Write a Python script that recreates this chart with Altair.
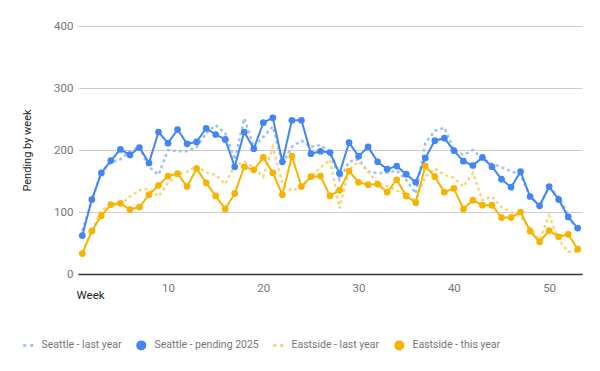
import altair as alt
import pandas as pd

weeks = list(range(1, 54))

seattle_last_year = [70, 118, 165, 180, 185, 198, 205, 173, 160, 200, 198, 198, 205, 227, 240, 227, 184, 251, 205, 221,
                     238, 178, 205, 215, 205, 208, 197, 152, 181, 185, 165, 163, 163, 167, 152, 130, 211, 231, 236, 200,
                     192, 200, 185, 178, 172, 166, 160, 125, 110, 140, 125, 95, 68]
seattle_2025 = [62, 120, 163, 183, 201, 192, 204, 179, 229, 211, 233, 210, 213, 235, 225, 217, 173, 229, 202, 244,
                252, 181, 248, 248, 194, 198, 196, 162, 212, 190, 205, 181, 169, 174, 161, 148, 187, 215, 219, 199,
                182, 175, 188, 173, 153, 140, 165, 125, 110, 141, 120, 92, 74]
eastside_last_year = [35, 70, 103, 112, 112, 125, 135, 137, 125, 147, 160, 165, 174, 164, 160, 145, 175, 181, 172, 157,
                      205, 146, 134, 140, 157, 172, 184, 106, 168, 181, 165, 146, 142, 135, 127, 119, 157, 170, 160, 155,
                      141, 163, 119, 125, 108, 100, 92, 74, 55, 94, 55, 36, 36]
eastside_this_year = [33, 69, 94, 112, 114, 104, 108, 128, 143, 158, 162, 141, 170, 147, 126, 105, 130, 173, 168, 188,
                      163, 128, 190, 141, 157, 158, 126, 135, 166, 148, 144, 145, 132, 152, 126, 115, 174, 157, 132, 138,
                      105, 119, 111, 111, 91, 91, 100, 69, 52, 70, 60, 64, 40]

series_names = ["Seattle - last year", "Seattle - pending 2025", "Eastside - last year", "Eastside - this year"]
series_colors = ["#9fc0f8", "#4285f4", "#f9d57a", "#f4b400"]
two_squares = "M-1,-0.3H-0.4V0.3H-1Z M0.4,-0.3H1V0.3H0.4Z"
series_shapes = [two_squares, "circle", two_squares, "circle"]
last_year = ["Seattle - last year", "Eastside - last year"]
current = ["Seattle - pending 2025", "Eastside - this year"]

rows = []
for name, vals in zip(series_names, [seattle_last_year, seattle_2025, eastside_last_year, eastside_this_year]):
    for w, v in zip(weeks, vals):
        rows.append({"week": w, "value": v, "series": name})
df = pd.DataFrame(rows)

FONT = "Roboto"

x_enc = alt.X(
    "week:Q",
    scale=alt.Scale(domain=[0.55, 53.45], nice=False, zero=False),
    axis=alt.Axis(
        values=[10, 20, 30, 40, 50], grid=False, ticks=False,
        domainColor="#333333", domainWidth=1.5,
        labelFont=FONT, labelFontSize=11.5, labelColor="#757575", labelPadding=8,
        title="Week", titleFont=FONT, titleFontSize=11.5, titleColor="#222222",
        titleFontWeight="normal", titleAnchor="start", titleAlign="left",
        titleX=-2, titleY=21, titleBaseline="middle",
    ),
)
y_enc = alt.Y(
    "value:Q",
    scale=alt.Scale(domain=[0, 400], nice=False),
    axis=alt.Axis(
        values=[0, 100, 200, 300, 400], domain=False, ticks=False,
        gridColor="#cccccc", gridWidth=1,
        labelFont=FONT, labelFontSize=11.5, labelColor="#757575", labelPadding=5,
        title="Pending by week", titleFont=FONT, titleFontSize=11, titleColor="#222222",
        titleFontWeight="normal", titleAngle=-90, titleX=-51, titleY=124,
        titleAlign="center", titleBaseline="middle",
    ),
)

color_scale = alt.Scale(domain=series_names, range=series_colors)
shape_scale = alt.Scale(domain=series_names, range=series_shapes)

legend = alt.Legend(
    title=None, orient="none", legendX=-55, legendY=314, direction="horizontal",
    labelFont=FONT, labelFontSize=10.5, labelColor="#757575",
    symbolSize=100, labelOffset=8, columnPadding=14, symbolOpacity=1, symbolStrokeWidth=0,
)

base = alt.Chart(df)

dotted = base.transform_filter(
    alt.FieldOneOfPredicate(field="series", oneOf=last_year)
).mark_line(strokeWidth=2.5, strokeDash=[3, 3], strokeCap="butt").encode(
    x=x_enc, y=y_enc,
    color=alt.Color("series:N", scale=color_scale, legend=None),
    detail="series:N",
)

solid = base.transform_filter(
    alt.FieldOneOfPredicate(field="series", oneOf=current)
).mark_line(strokeWidth=2).encode(
    x=x_enc, y=y_enc,
    color=alt.Color("series:N", scale=color_scale, legend=None),
    detail="series:N",
)

points = base.transform_filter(
    alt.FieldOneOfPredicate(field="series", oneOf=current)
).mark_point(filled=True, size=45, opacity=1).encode(
    x=x_enc, y=y_enc,
    color=alt.Color("series:N", scale=color_scale, legend=legend),
    shape=alt.Shape("series:N", scale=shape_scale, legend=legend),
)

chart = alt.layer(dotted, solid, points).resolve_legend(
    color="independent", shape="independent"
).properties(
    width=504, height=248,
    autosize=alt.AutoSizeParams(type="none"),
    padding={"left": 70, "top": 18, "right": 10, "bottom": 89},
).configure_view(stroke=None)

chart.save("out.html", embed_options={"renderer": "svg", "actions": False})
